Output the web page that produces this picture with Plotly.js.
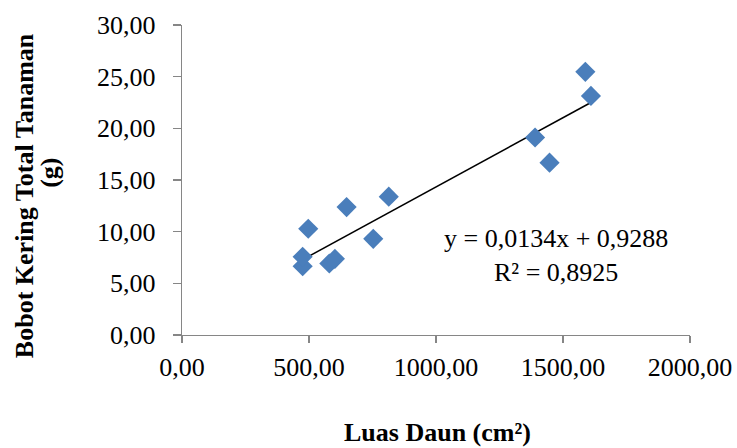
<!DOCTYPE html>
<html>
<head>
<meta charset="utf-8">
<script src="https://cdn.plot.ly/plotly-3.0.1.min.js"></script>
<style>html,body{margin:0;padding:0;background:#fff;}#chart{width:737px;height:448px;}</style>
</head>
<body>
<div id="chart"></div>
<script>
// Data
const luasDaun = [475, 475, 497, 580, 602, 648, 753, 814, 1390, 1447, 1588, 1610];
const bobotKering = [6.65, 7.57, 10.28, 6.92, 7.37, 12.38, 9.31, 13.39, 19.11, 16.68, 25.47, 23.14];
const xTickVals = [0, 500, 1000, 1500, 2000];
const xTickText = ['0,00', '500,00', '1000,00', '1500,00', '2000,00'];
const yTickVals = [0, 5, 10, 15, 20, 25, 30];
const yTickText = ['0,00', '5,00', '10,00', '15,00', '20,00', '25,00', '30,00'];
const trendSlope = 0.0134;
const trendIntercept = 0.9288;
const equationText = 'y = 0,0134x + 0,9288<br>R² = 0,8925';
const xTitle = 'Luas Daun (cm²)';
const yTitleLine1 = 'Bobot Kering Total Tanaman';
const yTitleLine2 = '(g)';

const xMin = Math.min(...luasDaun), xMax = Math.max(...luasDaun);
const trendX = [xMin, xMax];
const trendY = trendX.map(v => trendSlope * v + trendIntercept);

const FONT = 'Liberation Serif, Times New Roman, serif';
const axisColor = '#868686';

const data = [
  {
    x: trendX, y: trendY, type: 'scatter', mode: 'lines',
    line: {color: '#000000', width: 1.5}, hoverinfo: 'skip', showlegend: false
  },
  {
    x: luasDaun, y: bobotKering, type: 'scatter', mode: 'markers',
    marker: {symbol: 'diamond', size: 15.5, color: '#4A7EBB'}, showlegend: false
  }
];

const layout = {
  width: 737, height: 448,
  margin: {l: 182, r: 47, t: 25, b: 113},
  paper_bgcolor: '#ffffff', plot_bgcolor: '#ffffff',
  font: {family: FONT, size: 26, color: '#000000'},
  showlegend: false,
  xaxis: {
    range: [0, 2000], tickvals: xTickVals, ticktext: xTickText,
    showgrid: false, zeroline: false, showline: true, linecolor: axisColor, linewidth: 1.3,
    ticks: 'outside', ticklen: 7, tickwidth: 1.3, tickcolor: axisColor,
    tickfont: {family: FONT, size: 26, color: '#000'}, ticklabelstandoff: 1
  },
  yaxis: {
    range: [0, 30], tickvals: yTickVals, ticktext: yTickText,
    showgrid: false, zeroline: false, showline: true, linecolor: axisColor, linewidth: 1.3,
    ticks: 'outside', ticklen: 8, tickwidth: 1.3, tickcolor: axisColor,
    tickfont: {family: FONT, size: 26, color: '#000'}, ticklabelstandoff: 12
  },
  annotations: [
    {text: equationText, xref: 'x', yref: 'y', x: 1472, y: 7.67, showarrow: false,
     align: 'center', xanchor: 'center', yanchor: 'middle',
     font: {family: FONT, size: 26, color: '#000'}},
    {text: '<b>' + xTitle + '</b>', xref: 'paper', yref: 'paper', x: 0.502, y: -0.315,
     showarrow: false, xanchor: 'center', yanchor: 'middle',
     font: {family: FONT, size: 26, color: '#000'}},
    {text: '<b>' + yTitleLine1 + '</b>', xref: 'paper', yref: 'paper', x: -0.311, y: 0.448,
     textangle: -90, showarrow: false, xanchor: 'center', yanchor: 'middle',
     font: {family: FONT, size: 26, color: '#000'}},
    {text: '<b>' + yTitleLine2 + '</b>', xref: 'paper', yref: 'paper', x: -0.26, y: 0.523,
     textangle: -90, showarrow: false, xanchor: 'center', yanchor: 'middle',
     font: {family: FONT, size: 26, color: '#000'}}
  ]
};

Plotly.newPlot('chart', data, layout, {staticPlot: true, displayModeBar: false});
</script>
</body>
</html>
